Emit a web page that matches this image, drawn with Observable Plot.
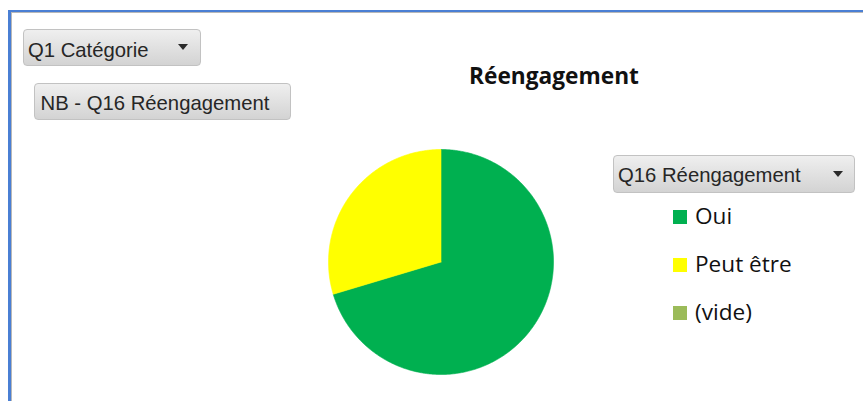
<!DOCTYPE html>
<html>
<head>
<meta charset="utf-8">
<script src="https://cdn.jsdelivr.net/npm/d3@7"></script>
<script src="https://cdn.jsdelivr.net/npm/@observablehq/plot@0.6"></script>
<style>
  html, body { margin: 0; padding: 0; background: #fff; }
  #page { position: relative; width: 863px; height: 401px; overflow: hidden; background: #fff; }
  #frameBlue { position: absolute; left: 8px; top: 10px; width: 900px; height: 500px;
    border-left: 3px solid #4a7fd4; border-top: 2px solid #4a7fd4; }
  #frameGray { position: absolute; left: 11px; top: 12px; width: 900px; height: 500px;
    border-left: 1px solid #b8b8b8; border-top: 1px solid #b8b8b8; }
  .btn { position: absolute; box-sizing: border-box; border: 1px solid #c2c2c2; border-radius: 4px;
    background: linear-gradient(#efefef, #d3d3d3); }
  .btn span.t { position: absolute; font-family: "Liberation Sans", Arial, sans-serif; font-size: 20.3px;
    line-height: 20px; color: #262626; white-space: nowrap; }
  .btn .arrow { position: absolute; width: 0; height: 0; border-left: 5px solid transparent;
    border-right: 5px solid transparent; border-top: 6px solid #2a2a2a; }
  #title { position: absolute; left: 454px; width: 200px; top: 64.8px; text-align: center;
    font-family: "Open Sans", sans-serif; font-weight: bold; font-size: 22.7px; line-height: 22.7px; color: #111; white-space: nowrap; }
  #pie { position: absolute; left: 328px; top: 149px; }
  #pie svg { overflow: visible; }
  .leg { position: absolute; left: 673px; }
  .leg .sw { position: absolute; left: 0; width: 14px; height: 14px; }
  .leg .lt { position: absolute; left: 22px; font-family: "Open Sans", sans-serif; font-size: 22.6px;
    line-height: 22px; color: #111; white-space: nowrap; }
</style>
</head>
<body>
<div id="page">
  <div id="frameBlue"></div>
  <div id="frameGray"></div>
  <div class="btn" style="left:23px; top:29px; width:178px; height:37px;">
    <span class="t" style="left:4px; top:10.4px;">Q1 Catégorie</span>
    <span class="arrow" style="left:154px; top:14px;"></span>
  </div>
  <div class="btn" style="left:34px; top:83px; width:257px; height:37px;">
    <span class="t" style="left:5.5px; top:9.4px;">NB - Q16 Réengagement</span>
  </div>
  <div class="btn" style="left:613px; top:155px; width:242px; height:38px;">
    <span class="t" style="left:4px; top:9.4px;">Q16 Réengagement</span>
    <span class="arrow" style="left:219px; top:15px;"></span>
  </div>
  <div id="title">Réengagement</div>
  <div id="pie"></div>
  <div id="legend"></div>
</div>
<script>
const categories = ["Oui", "Peut être", "(vide)"];
const values = [19, 8, 0];
const colors = ["#00b050", "#ffff00", "#9bbb59"];
const chartTitle = "Réengagement";

const data = categories.map((c, i) => ({label: c, value: values[i]}));
const arcs = d3.pie().sort(null).value(d => d.value).startAngle(0)(data);

// Build slice outlines (center + arc samples) from the pie layout
const pts = [];
arcs.forEach(a => {
  if (a.endAngle - a.startAngle <= 0) return;
  const n = Math.max(2, Math.ceil((a.endAngle - a.startAngle) / (Math.PI / 360)));
  pts.push({label: a.data.label, x: 0, y: 0});
  for (let k = 0; k <= n; k++) {
    const t = a.startAngle + (a.endAngle - a.startAngle) * k / n;
    pts.push({label: a.data.label, x: Math.sin(t), y: Math.cos(t)});
  }
  pts.push({label: a.data.label, x: 0, y: 0});
});

const chart = Plot.plot({
  width: 225, height: 225,
  margin: 0,
  x: {domain: [-1, 1], axis: null},
  y: {domain: [-1, 1], axis: null},
  color: {domain: categories, range: colors},
  marks: [
    Plot.line(pts, {x: "x", y: "y", z: "label", fill: "label", stroke: "label", strokeWidth: 0.6, curve: "linear"})
  ]
});
document.getElementById("pie").appendChild(chart);

// Legend
const leg = document.getElementById("legend");
const baseTop = 205, step = 48;
categories.forEach((c, i) => {
  const row = document.createElement("div");
  row.className = "leg";
  row.style.top = (baseTop + i * step) + "px";
  const sw = document.createElement("div");
  sw.className = "sw";
  sw.style.top = "5px";
  sw.style.background = colors[i];
  const lt = document.createElement("div");
  lt.className = "lt";
  lt.style.top = "0px";
  lt.textContent = c;
  row.appendChild(sw); row.appendChild(lt);
  leg.appendChild(row);
});
document.getElementById("title").textContent = chartTitle;
</script>
</body>
</html>
